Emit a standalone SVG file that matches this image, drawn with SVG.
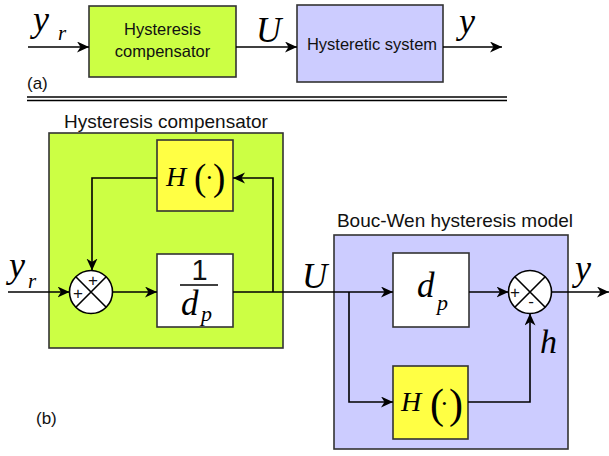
<svg xmlns="http://www.w3.org/2000/svg" width="609" height="456" viewBox="0 0 609 456">
<defs>
<marker id="ah" markerWidth="13" markerHeight="12" refX="12" refY="5.5" orient="auto" markerUnits="userSpaceOnUse">
<path d="M0,0 L12,5.5 L0,11 L3.5,5.5 z" fill="#000"/>
</marker>
<style>
.ln{fill:none;stroke:#000;stroke-width:1.6}
.arr{fill:none;stroke:#000;stroke-width:1.6;marker-end:url(#ah)}
.box{stroke:#333;stroke-width:1.6}
.green{fill:#ccff44}
.blue{fill:#ccccff}
.yellow{fill:#ffff44}
.white{fill:#fff}
.sans{font-family:"Liberation Sans",Arial,sans-serif;fill:#111}
.m{font-family:"Liberation Serif","Times New Roman",serif;font-style:italic;fill:#000}
.up{font-style:normal}
.sum{fill:#fff;stroke:#000;stroke-width:1.6}
</style>
</defs>

<!-- (a) -->
<g id="a-comp">
<rect class="box green" x="89" y="6" width="147" height="71"/>
<text class="sans" x="162.5" y="35" font-size="16.5" text-anchor="middle">Hysteresis</text>
<text class="sans" x="162.5" y="57" font-size="16.5" text-anchor="middle">compensator</text>
</g>
<g id="a-sys">
<rect class="box blue" x="297" y="5" width="146" height="77"/>
<text class="sans" x="372" y="50" font-size="16.5" text-anchor="middle">Hysteretic system</text>
</g>
<g id="a-labels">
<text class="m" x="33" y="31" font-size="36">y</text>
<text class="m" x="58" y="40" font-size="21">r</text>
<text class="m" x="256" y="42" font-size="35">U</text>
<text class="m" x="459" y="33" font-size="36">y</text>
<text class="sans" x="27" y="89" font-size="17">(a)</text>
</g>
<g id="a-connectors">
<path class="arr" d="M28,47 L89,47"/>
<path class="arr" d="M236,47 L297,47"/>
<path class="arr" d="M443,47 L502,47"/>
</g>
<g id="separator">
<path class="ln" d="M27,97 L507,97"/>
<path class="ln" d="M27,100.5 L507,100.5"/>
</g>

<!-- (b) -->
<g id="b-comp">
<rect class="box green" x="49" y="133" width="234" height="215"/>
<text class="sans" x="166" y="128" font-size="19" text-anchor="middle">Hysteresis compensator</text>
</g>
<g id="b-model">
<rect class="box blue" x="334" y="235" width="234" height="214"/>
<text class="sans" x="455" y="227" font-size="19" text-anchor="middle">Bouc-Wen hysteresis model</text>
</g>

<g id="comp-H">
<rect class="box yellow" x="157" y="140" width="76" height="71"/>
<text class="m" y="190"><tspan x="166" y="186" font-size="28">H</tspan><tspan class="up" x="194" y="190" font-size="37">(</tspan><tspan class="up" x="205" y="186" font-size="26">·</tspan><tspan class="up" x="213" y="190" font-size="37">)</tspan></text>
</g>
<g id="comp-inv">
<rect class="box white" x="157" y="254" width="76" height="73"/>
<text class="sans" x="199.5" y="280" font-size="29" text-anchor="middle">1</text>
<path class="ln" d="M180,285 L218,285"/>
<text class="m" y="315"><tspan x="181" font-size="35">d</tspan><tspan x="201" y="321" font-size="22">p</tspan></text>
</g>
<g id="comp-sum">
<circle class="sum" cx="91" cy="292" r="21.5"/>
<path class="ln" d="M75.8,276.8 L106.2,307.2 M75.8,307.2 L106.2,276.8"/>
<text class="sans" x="93" y="286" font-size="17" text-anchor="middle">+</text>
<text class="sans" x="78" y="299" font-size="17" text-anchor="middle">+</text>
</g>

<g id="model-dp">
<rect class="box white" x="393" y="253" width="76" height="74"/>
<text class="m" y="297"><tspan x="417" font-size="35">d</tspan><tspan x="437" y="310" font-size="22">p</tspan></text>
</g>
<g id="model-H">
<rect class="box yellow" x="393" y="366" width="75" height="73"/>
<text class="m" y="412"><tspan x="401" y="411" font-size="28">H</tspan><tspan class="up" x="430" y="418" font-size="42">(</tspan><tspan class="up" x="440" y="412" font-size="26">·</tspan><tspan class="up" x="449" y="418" font-size="42">)</tspan></text>
</g>
<g id="model-sum">
<circle class="sum" cx="530" cy="292" r="21.5"/>
<path class="ln" d="M514.8,276.8 L545.2,307.2 M514.8,307.2 L545.2,276.8"/>
<text class="sans" x="515" y="298" font-size="17" text-anchor="middle">+</text>
<text class="sans" x="531" y="307" font-size="17" text-anchor="middle">-</text>
</g>

<g id="b-labels">
<text class="m" x="9" y="277" font-size="36">y</text>
<text class="m" x="28" y="288" font-size="21">r</text>
<text class="m" x="302" y="288" font-size="35">U</text>
<text class="m" x="575" y="280" font-size="36">y</text>
<text class="m" x="540" y="353" font-size="34">h</text>
<text class="sans" x="36" y="424" font-size="17">(b)</text>
</g>

<g id="b-connectors">
<path class="arr" d="M8,292 L69.5,292"/>
<path class="arr" d="M112.5,292 L157,292"/>
<path class="arr" d="M233,292 L393,292"/>
<path class="arr" d="M273,292 L273,178 L233,178"/>
<path class="arr" d="M157,178 L92,178 L92,270.5"/>
<path class="arr" d="M349,292 L349,402 L393,402"/>
<path class="arr" d="M469,292 L508.5,292"/>
<path class="arr" d="M551.5,292 L609,292"/>
<path class="arr" d="M468,402 L530,402 L530,313.5"/>
</g>
</svg>
